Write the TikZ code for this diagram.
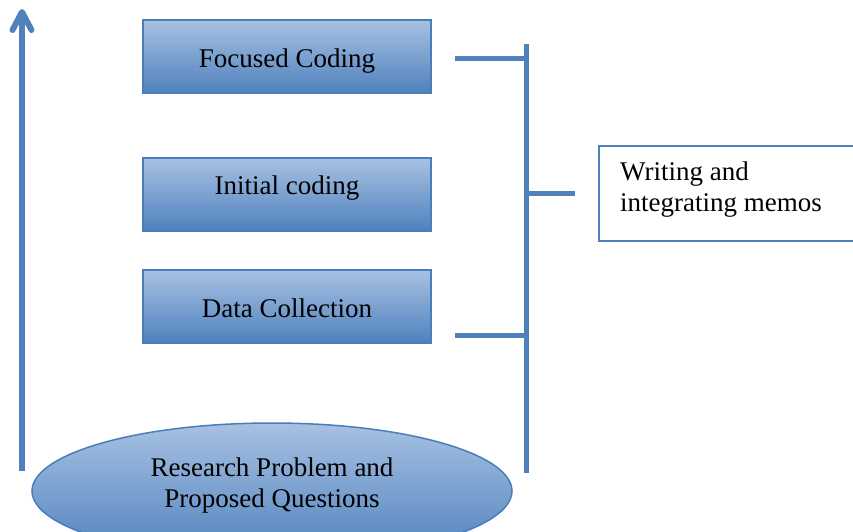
\documentclass[tikz,border=0pt]{standalone}
\usepackage{fontspec}
\setmainfont{Liberation Serif}
\usetikzlibrary{shapes.geometric}
\definecolor{stepblue}{HTML}{4F81BD}
\definecolor{stepedge}{HTML}{4A7EBB}
\definecolor{steplight}{HTML}{A7C1E2}
\tikzset{
  bigtext/.style={font=\fontsize{27}{31}\selectfont},
  stagebox/.style={rectangle, draw=stepedge, line width=1.8pt,
    top color=steplight, bottom color=stepblue,
    minimum width=288pt, minimum height=73pt, inner sep=0pt, bigtext,
    text height=24pt, text depth=3pt},
  memobox/.style={rectangle, draw=stepblue, line width=1.8pt, fill=white,
    minimum width=270pt, minimum height=95pt, inner sep=0pt},
  bracket/.style={draw=stepblue, line width=5pt},
  uparrow/.style={draw=stepblue, line width=6pt, line cap=round, line join=round},
}
\begin{document}
\begin{tikzpicture}[x=1pt, y=-1pt]
  \useasboundingbox (0,0) rectangle (853,531);

  % stages of the process
  \node[stagebox] (focused) at (287,56.5) {Focused Coding};
  \node[stagebox, text height=12pt, text depth=12pt] (initial) at (287,194.5) {Initial coding};
  \node[stagebox] (data) at (287,306.5) {Data Collection};

  % starting point
  \node[ellipse, draw=stepedge, line width=1.5pt,
        top color=steplight, bottom color=stepblue,
        minimum width=480pt, minimum height=136pt, inner sep=0pt] (problem) at (272,491) {};
  \node[bigtext, align=center] (problemtext) at (272,485)
        {Research Problem and\\Proposed Questions};

  % upward progress arrow with an open chevron head
  \coordinate (upstart) at (22,471);
  \coordinate (uptip) at (22,12);
  \coordinate (wingleft) at (12.5,30);
  \coordinate (wingright) at (31.5,30);
  \draw[bracket, line width=5.5pt] (upstart) -- (uptip);
  \draw[uparrow] (wingleft) -- (uptip) -- (wingright);

  % memo writing box
  \node[memobox] (memos) at (734,193.5) {};
  \node[bigtext, anchor=west, align=left, inner sep=0pt] (memotext) at (620,189.5)
        {Writing and\\integrating memos};

  % bracket spanning the stages
  \coordinate (btop) at (526,44);
  \coordinate (bbot) at (526,473);
  \coordinate (topleft) at (455,58);
  \coordinate (topjoin) at (526,58);
  \coordinate (lowleft) at (455,335);
  \coordinate (lowjoin) at (526,335);
  \coordinate (midjoin) at (526,193);
  \coordinate (midright) at (575,193);
  \draw[bracket] (btop) -- (bbot);
  \draw[bracket] (topleft) -- (topjoin);
  \draw[bracket] (lowleft) -- (lowjoin);
  \draw[bracket] (midjoin) -- (midright);
\end{tikzpicture}
\end{document}
